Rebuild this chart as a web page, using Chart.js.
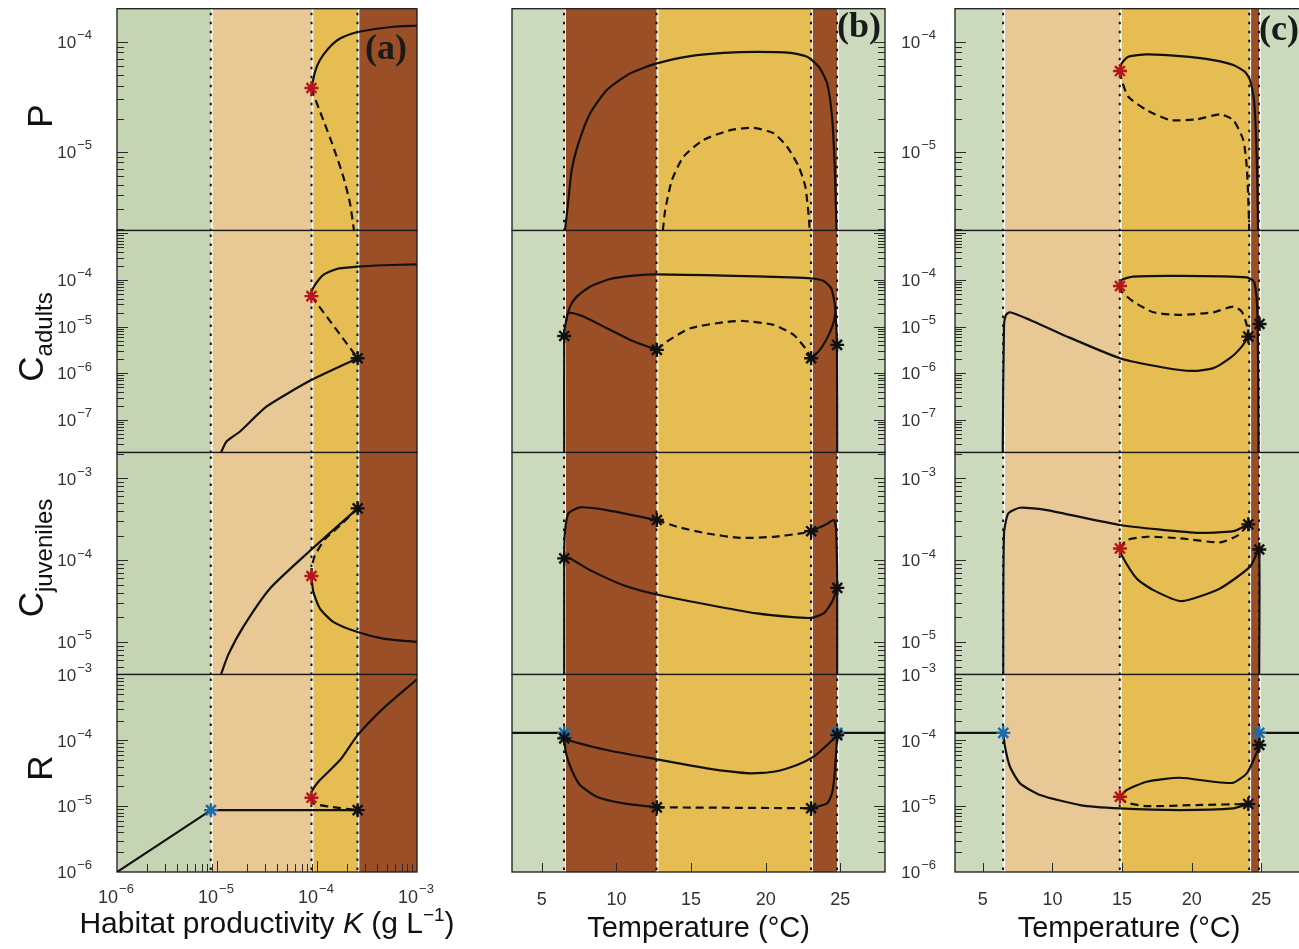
<!DOCTYPE html>
<html lang="en">
<head>
<meta charset="utf-8">
<title>Bifurcation diagrams</title>
<script src="https://cdn.jsdelivr.net/npm/chart.js@4.4.1/dist/chart.umd.min.js"></script>
<style>
  html, body { margin:0; padding:0; background:#fff; width:1299px; height:949px; overflow:hidden; }
  #figure { position:relative; width:1299px; height:949px; overflow:hidden; }
  #figure canvas { position:absolute; }
</style>
</head>
<body>
<div id="figure"></div>
<script>
// ---------- axis ranges and tick labels ----------
const kRange = [1e-6, 1e-3];
const kTicks = [1e-6, 1e-5, 1e-4, 1e-3];
const kTickLabels = ['10^-6', '10^-5', '10^-4', '10^-3'];
const tRange = [3, 28];
const tTicks = [5, 10, 15, 20, 25];
const tTickLabels = ['5', '10', '15', '20', '25'];

const pRange = [1.92e-6, 2.0e-4];
const pTicks = [1e-5, 1e-4];
const pTickLabels = ['10^-5', '10^-4'];
const caRange = [2.0e-8, 1.15e-3];
const caTicks = [1e-7, 1e-6, 1e-5, 1e-4];
const caTickLabels = ['10^-7', '10^-6', '10^-5', '10^-4'];
const cjRange = [4.0e-6, 2.07e-3];
const cjTicks = [1e-5, 1e-4, 1e-3];
const cjTickLabels = ['10^-5', '10^-4', '10^-3'];
const rRange = [1e-6, 1e-3];
const rTicks = [1e-6, 1e-5, 1e-4, 1e-3];
const rTickLabels = ['10^-6', '10^-5', '10^-4', '10^-3'];

// ---------- regime boundaries along each x axis ----------
const zonesA = [1e-6, 8.7e-6, 8.85e-5, 2.55e-4, 1e-3];
const zoneKindsA = ['green', 'tan', 'gold', 'rust'];
const zonesB = [3, 6.5, 12.7, 23.05, 24.8, 28];
const zoneKindsB = ['green', 'rust', 'gold', 'rust', 'green'];
const zonesC = [3, 6.47, 14.85, 24.15, 24.85, 28];
const zoneKindsC = ['green', 'tan', 'gold', 'rust', 'green'];

// ---------- (a) habitat productivity K ----------
const aP_stable = [[8.8e-5,3.8e-5],[9.55e-5,5.33e-5],[1.07e-4,6.82e-5],[1.3e-4,8.71e-5],[1.7e-4,1.07e-4],[2.5e-4,1.22e-4],[3.66e-4,1.3e-4],[5.79e-4,1.37e-4],[1e-3,1.4e-4]];
const aP_unstable = [[8.8e-5,3.8e-5],[9.0e-5,3.51e-5],[1.156e-4,1.94e-5],[1.455e-4,1.11e-5],[1.832e-4,5.93e-6],[2.138e-4,3.4e-6],[2.344e-4,1.92e-6]];
const aP_red = [[8.8e-5,3.8e-5]];

const aCa_stable = [[8.8e-5,4.5e-5],[8.85e-5,5.62e-5],[9.55e-5,7.82e-5],[1.156e-4,1.28e-4],[1.574e-4,1.72e-4],[2.55e-4,1.93e-4],[4.6e-4,2.07e-4],[1e-3,2.17e-4]];
const aCa_unstable = [[8.8e-5,4.5e-5],[2.55e-4,2.1e-6]];
const aCa_lower = [[1.096e-5,2.0e-8],[1.25e-5,3.47e-8],[1.7e-5,5.65e-8],[3.14e-5,1.94e-7],[8.85e-5,7.23e-7],[2.55e-4,2.1e-6]];
const aCa_red = [[8.8e-5,4.5e-5]];
const aCa_black = [[2.55e-4,2.1e-6]];

const aCj_rising = [[1.096e-5,4.0e-6],[1.297e-5,7.0e-6],[1.83e-5,1.53e-5],[3.39e-5,4.51e-5],[8.85e-5,1.36e-4],[2.55e-4,4.3e-4]];
const aCj_unstable = [[8.8e-5,6.4e-5],[8.9e-5,8.5e-5],[9.55e-5,1.15e-4],[1.2e-4,1.8e-4],[1.7e-4,2.65e-4],[2.55e-4,4.3e-4]];
const aCj_falling = [[8.8e-5,6.4e-5],[8.85e-5,5.97e-5],[9.19e-5,4.09e-5],[1.07e-4,2.56e-5],[1.455e-4,1.76e-5],[2.5e-4,1.33e-5],[4.6e-4,1.1e-5],[1e-3,1.0e-5]];
const aCj_red = [[8.8e-5,6.4e-5]];
const aCj_black = [[2.55e-4,4.3e-4]];

const aR_rising = [[1e-6,1e-6],[8.7e-6,8.7e-6]];
const aR_flat = [[8.7e-6,8.7e-6],[2.55e-4,8.7e-6]];
const aR_stable = [[8.8e-5,1.34e-5],[8.85e-5,1.66e-5],[1.07e-4,2.49e-5],[1.7e-4,5.02e-5],[2.55e-4,1.2e-4],[4.6e-4,3.06e-4],[1e-3,8.45e-4]];
const aR_unstable = [[8.8e-5,1.34e-5],[9.2e-5,1.1e-5],[1.35e-4,9.8e-6],[2.55e-4,8.7e-6]];
const aR_red = [[8.8e-5,1.34e-5]];
const aR_blue = [[8.7e-6,8.7e-6]];
const aR_black = [[2.55e-4,8.7e-6]];

// ---------- (b) temperature ----------
const bP_stable = [[6.55,1.92e-6],[6.78,3.63e-6],[7.0,6.82e-6],[7.45,1.19e-5],[8.23,2.23e-5],[9.36,3.64e-5],[10.92,5.16e-5],[12.71,6.37e-5],[14.95,7.41e-5],[17.18,7.94e-5],[19.42,8.11e-5],[21.66,7.94e-5],[22.78,7.31e-5],[23.56,5.93e-5],[24.12,4.19e-5],[24.45,2.08e-5],[24.63,7.31e-6],[24.75,1.92e-6]];
const bP_unstable = [[13.11,1.92e-6],[13.27,2.95e-6],[13.72,5.53e-6],[14.5,9.02e-6],[15.84,1.28e-5],[17.63,1.57e-5],[19.2,1.65e-5],[20.54,1.47e-5],[21.44,1.11e-5],[22.22,7.31e-6],[22.66,4.81e-6],[22.89,2.57e-6],[22.95,1.92e-6]];

const bCa_outer = [[6.5,2.0e-8],[6.5,6.3e-6],[6.62,1.28e-5],[6.89,2.69e-5],[7.34,4.4e-5],[8.23,7.19e-5],[9.58,1.05e-4],[11.14,1.24e-4],[12.71,1.32e-4],[17.18,1.24e-4],[21.66,1.14e-4],[23.0,1.09e-4],[23.89,9.55e-5],[24.39,6.64e-5],[24.61,3.44e-5],[24.68,2.1e-5],[24.78,4.06e-6],[24.8,2.0e-8]];
const bCa_right = [[24.68,2.1e-5],[24.57,1.28e-5],[24.23,6.64e-6],[23.79,3.73e-6],[23.34,2.48e-6],[23.05,2.1e-6]];
const bCa_left = [[6.62,1.28e-5],[6.75,1.95e-5],[7.12,1.93e-5],[7.79,1.64e-5],[9.36,9.23e-6],[10.92,5.19e-6],[12.71,3.17e-6]];
const bCa_unstable = [[12.71,3.17e-6],[13.38,4.79e-6],[14.95,9.23e-6],[17.18,1.24e-5],[18.52,1.32e-5],[20.54,1.09e-5],[21.88,6.64e-6],[22.66,3.44e-6],[23.05,2.1e-6]];
const bCa_black = [[6.5,6.3e-6],[12.71,3.17e-6],[23.05,2.1e-6],[24.79,4.06e-6]];

const bCj_upper = [[6.5,4.0e-6],[6.5,1.05e-4],[6.55,2.22e-4],[6.78,3.73e-4],[7.56,4.42e-4],[9.36,4.09e-4],[12.71,3.09e-4]];
const bCj_unstable = [[12.71,3.09e-4],[14.05,2.56e-4],[16.06,2.12e-4],[18.3,1.87e-4],[20.54,1.93e-4],[22.33,2.12e-4],[23.05,2.26e-4]];
const bCj_right = [[23.05,2.26e-4],[24.0,2.7e-4],[24.57,3.09e-4],[24.72,2.4e-4],[24.78,1.0e-4],[24.8,4.58e-5],[24.8,4.0e-6]];
const bCj_lower = [[6.5,1.05e-4],[6.89,1.05e-4],[8.23,7.55e-5],[10.47,4.94e-5],[12.71,3.8e-5],[16.06,2.87e-5],[19.42,2.23e-5],[21.66,2.02e-5],[23.05,1.97e-5],[23.89,2.23e-5],[24.45,3.09e-5],[24.8,4.58e-5]];
const bCj_black = [[6.5,1.05e-4],[12.71,3.09e-4],[23.05,2.26e-4],[24.8,4.58e-5]];

const bR_edgeLeft = [[3,1.3e-4],[6.5,1.3e-4]];
const bR_edgeRight = [[24.8,1.3e-4],[28,1.3e-4]];
const bR_upper = [[6.5,1.3e-4],[6.5,1.07e-4],[9.36,7.13e-5],[12.71,5.14e-5],[16.06,3.75e-5],[18.97,3.15e-5],[20.54,3.33e-5],[22.1,4.22e-5],[23.22,5.64e-5],[24.12,8.49e-5],[24.8,1.2e-4],[24.8,1.3e-4]];
const bR_lower = [[6.5,1.07e-4],[6.62,6.34e-5],[7.0,3.54e-5],[7.56,2.09e-5],[8.68,1.39e-5],[10.47,1.1e-5],[12.71,9.6e-6]];
const bR_unstable = [[12.71,9.6e-6],[23.05,9.3e-6]];
const bR_right = [[23.05,9.3e-6],[24.12,1.1e-5],[24.45,1.57e-5],[24.61,2.8e-5],[24.75,8.0e-5],[24.8,1.2e-4]];
const bR_blue = [[6.5,1.3e-4],[24.8,1.3e-4]];
const bR_black = [[6.5,1.07e-4],[12.71,9.6e-6],[23.05,9.3e-6],[24.8,1.2e-4]];

// ---------- (c) temperature ----------
const cP_stable = [[14.85,5.42e-5],[14.97,6.37e-5],[15.45,7.31e-5],[16.77,7.67e-5],[19.16,7.41e-5],[21.56,6.82e-5],[22.99,6.14e-5],[23.83,5.33e-5],[24.19,4.49e-5],[24.48,2.95e-5],[24.62,1.47e-5],[24.72,5.16e-6],[24.77,1.92e-6]];
const cP_unstable = [[14.85,5.42e-5],[14.97,4.49e-5],[15.45,3.16e-5],[16.77,2.39e-5],[18.45,1.94e-5],[20.36,1.97e-5],[22.04,2.19e-5],[22.99,1.94e-5],[23.71,1.28e-5],[23.96,7.31e-6],[24.07,3.64e-6],[24.14,1.92e-6]];
const cP_red = [[14.85,5.42e-5]];

const cCa_stable = [[14.85,7.4e-5],[14.97,1.0e-4],[15.81,1.18e-4],[19.16,1.22e-4],[23.96,1.14e-4],[24.48,9.2e-5],[24.67,4.06e-5],[24.74,1.09e-5],[24.79,4.06e-7],[24.81,2.0e-8]];
const cCa_unstable = [[14.85,7.4e-5],[14.97,5.62e-5],[15.81,3.44e-5],[17.25,2.03e-5],[19.16,1.78e-5],[21.56,2.03e-5],[22.99,2.69e-5],[23.6,2.1e-5],[23.96,1.09e-5],[24.07,6.11e-6]];
const cCa_lower = [[6.43,2.0e-8],[6.52,1.09e-5],[6.66,1.78e-5],[6.95,2.03e-5],[8.39,1.39e-5],[10.78,6.64e-6],[14.85,2.1e-6],[17.96,1.33e-6],[20.0,1.12e-6],[21.56,1.29e-6],[22.75,2.1e-6],[23.6,3.73e-6],[24.07,6.11e-6]];
const cCa_red = [[14.85,7.4e-5]];
const cCa_black = [[24.07,6.11e-6],[24.88,1.14e-5]];

const cCj_upper = [[6.47,4.0e-6],[6.52,2.12e-4],[6.83,3.73e-4],[7.67,4.37e-4],[9.59,4.09e-4],[14.85,2.69e-4],[20.36,2.16e-4],[22.99,2.26e-4],[24.07,2.74e-4]];
const cCj_unstable = [[14.85,1.39e-4],[15.33,1.76e-4],[16.77,1.93e-4],[19.16,1.85e-4],[22.04,1.65e-4],[23.35,2.02e-4],[24.07,2.74e-4]];
const cCj_lower = [[14.85,1.39e-4],[14.97,1.15e-4],[16.05,5.97e-5],[17.25,4.3e-5],[19.28,3.15e-5],[22.04,4.51e-5],[24.19,8.28e-5],[24.62,1.15e-4],[24.86,1.35e-4],[24.86,4.0e-6]];
const cCj_red = [[14.85,1.39e-4]];
const cCj_black = [[24.07,2.74e-4],[24.86,1.35e-4]];

const cR_edgeLeft = [[3,1.3e-4],[6.47,1.3e-4]];
const cR_edgeRight = [[24.86,1.3e-4],[28,1.3e-4]];
const cR_lower = [[6.47,1.3e-4],[6.59,8.0e-5],[6.95,3.97e-5],[7.67,2.22e-5],[9.11,1.48e-5],[11.98,1.04e-5],[14.85,9.27e-6],[19.16,8.73e-6],[22.99,9.27e-6],[24.07,1.08e-5]];
const cR_unstable = [[14.85,1.39e-5],[15.33,1.13e-5],[16.77,1.0e-5],[20.36,1.04e-5],[24.07,1.08e-5]];
const cR_stable = [[14.85,1.39e-5],[15.33,1.76e-5],[16.77,2.35e-5],[19.16,2.7e-5],[21.56,2.35e-5],[22.99,2.27e-5],[23.96,3.15e-5],[24.55,5.64e-5],[24.86,8.49e-5],[24.86,1.3e-4]];
const cR_red = [[14.85,1.39e-5]];
const cR_blue = [[6.47,1.3e-4],[24.86,1.3e-4]];
const cR_black = [[24.07,1.08e-5],[24.86,8.49e-5]];

// ---------- which curves go in which panel (rows: P, C adults, C juveniles, R) ----------
const panelsA = [
  { solid:[aP_stable], dashed:[aP_unstable], red:aP_red, blue:[], black:[] },
  { solid:[aCa_stable, aCa_lower], dashed:[aCa_unstable], red:aCa_red, blue:[], black:aCa_black },
  { solid:[aCj_rising, aCj_falling], dashed:[aCj_unstable], red:aCj_red, blue:[], black:aCj_black },
  { solid:[aR_rising, aR_flat, aR_stable], dashed:[aR_unstable], red:aR_red, blue:aR_blue, black:aR_black }
];
const panelsB = [
  { solid:[bP_stable], dashed:[bP_unstable], red:[], blue:[], black:[] },
  { solid:[bCa_outer, bCa_right, bCa_left], dashed:[bCa_unstable], red:[], blue:[], black:bCa_black },
  { solid:[bCj_upper, bCj_right, bCj_lower], dashed:[bCj_unstable], red:[], blue:[], black:bCj_black },
  { solid:[bR_edgeLeft, bR_edgeRight, bR_upper, bR_lower, bR_right], dashed:[bR_unstable], red:[], blue:bR_blue, black:bR_black }
];
const panelsC = [
  { solid:[cP_stable], dashed:[cP_unstable], red:cP_red, blue:[], black:[] },
  { solid:[cCa_stable, cCa_lower], dashed:[cCa_unstable], red:cCa_red, blue:[], black:cCa_black },
  { solid:[cCj_upper, cCj_lower], dashed:[cCj_unstable], red:cCj_red, blue:[], black:cCj_black },
  { solid:[cR_edgeLeft, cR_edgeRight, cR_lower, cR_stable], dashed:[cR_unstable], red:cR_red, blue:cR_blue, black:cR_black }
];

// ---------- styling ----------
const SANS = "'Liberation Sans', Arial, Helvetica, sans-serif";
const SERIF = "'Liberation Serif', 'Times New Roman', serif";
const INK = '#111111';
const TICK_TEXT = '#333333';
const STAR_COLORS = { red:'#b3161c', blue:'#1f6aa6', black:'#111111' };
const ZONE_COLORS_A = { green:'#c5d4b2', tan:'#e8c996', gold:'#e6bd52', rust:'#9b4f26' };
const ZONE_COLORS_BC = { green:'#cbd9bc', tan:'#e8c996', gold:'#e6bd52', rust:'#9b4f26' };

const columns = [
  { data:panelsA, canvasLeft:0, canvasWidth:475, plotLeft:117, plotRight:417, yLabelRight:92,
    tickSide:'left', xType:'logarithmic', xRange:kRange, xTicks:kTicks, xTickLabels:kTickLabels, xMinorLog:true,
    zones:zonesA, zoneKinds:zoneKindsA, zoneColors:ZONE_COLORS_A, tag:'(a)', tagDx:-52, tagDy:41,
    yTitles:true, habitatTitle:true },
  { data:panelsB, canvasLeft:490, canvasWidth:420, plotLeft:512, plotRight:885, yLabelRight:null,
    tickSide:'right', xType:'linear', xRange:tRange, xTicks:tTicks, xTickLabels:tTickLabels, xMinorLog:false,
    zones:zonesB, zoneKinds:zoneKindsB, zoneColors:ZONE_COLORS_BC, tag:'(b)', tagDx:-48, tagDy:19,
    yTitles:false, habitatTitle:false },
  { data:panelsC, canvasLeft:875, canvasWidth:460, plotLeft:955, plotRight:1303, yLabelRight:936,
    tickSide:'left', xType:'linear', xRange:tRange, xTicks:tTicks, xTickLabels:tTickLabels, xMinorLog:false,
    zones:zonesC, zoneKinds:zoneKindsC, zoneColors:ZONE_COLORS_BC, tag:'(c)', tagDx:-44, tagDy:22,
    yTitles:false, habitatTitle:false }
];

const rows = [
  { top:8.7,   bottom:230.5, range:pRange,  ticks:pTicks,  labels:pTickLabels,  title:{ main:'P', sub:'', cx:52, cy:116 } },
  { top:230.5, bottom:452.5, range:caRange, ticks:caTicks, labels:caTickLabels, title:{ main:'C', sub:'adults', cx:43, cy:337 } },
  { top:452.5, bottom:674.5, range:cjRange, ticks:cjTicks, labels:cjTickLabels, title:{ main:'C', sub:'juveniles', cx:43, cy:558 } },
  { top:674.5, bottom:872,   range:rRange,  ticks:rTicks,  labels:rTickLabels,  title:{ main:'R', sub:'', cx:52, cy:768 } }
];

const FIG_H = 949;
const EDGE = 14;

// minor/major positions of a log axis (1..9 x 10^n inside the range)
function logTickValues(min, max) {
  const out = [];
  for (let e = Math.floor(Math.log10(min)); e <= Math.ceil(Math.log10(max)); e++) {
    for (let k = 1; k < 10; k++) {
      const v = k * Math.pow(10, e);
      if (v > min * 1.0001 && v < max * 0.9999) out.push({ v, major: k === 1 });
    }
  }
  return out;
}

// "10^-4" drawn as a base with a raised exponent
function drawPower(ctx, label, x, y, align, size) {
  const parts = label.split('^');
  const base = parts[0];
  const exp = (parts[1] || '').replace('-', '\u2212');
  const baseFont = size + 'px ' + SANS;
  const expFont = Math.round(size * 0.74) + 'px ' + SANS;
  ctx.font = baseFont;
  const wb = ctx.measureText(base).width;
  ctx.font = expFont;
  const we = ctx.measureText(exp).width;
  const total = wb + 1 + we;
  const x0 = align === 'right' ? x - total : x - total / 2;
  ctx.textAlign = 'left';
  ctx.textBaseline = 'middle';
  ctx.fillStyle = TICK_TEXT;
  ctx.font = baseFont;
  ctx.fillText(base, x0, y);
  ctx.font = expFont;
  ctx.fillText(exp, x0 + wb + 1, y - size * 0.45);
}

function drawAxisTitle(ctx, t, ox, oy) {
  ctx.save();
  ctx.translate(t.cx - ox, t.cy - oy);
  ctx.rotate(-Math.PI / 2);
  ctx.fillStyle = INK;
  ctx.textBaseline = 'alphabetic';
  ctx.textAlign = 'left';
  const mainFont = '35px ' + SANS, subFont = '24px ' + SANS;
  ctx.font = mainFont;
  const w1 = ctx.measureText(t.main).width;
  ctx.font = subFont;
  const w2 = t.sub ? ctx.measureText(t.sub).width : 0;
  const x0 = -(w1 + w2) / 2;
  ctx.font = mainFont;
  ctx.fillText(t.main, x0, 0);
  if (t.sub) { ctx.font = subFont; ctx.fillText(t.sub, x0 + w1, 9); }
  ctx.restore();
}

function drawHabitatTitle(ctx, cx, baseY) {
  const size = 30;
  const parts = [
    { t:'Habitat productivity ', f:size + 'px ' + SANS, dy:0 },
    { t:'K', f:'italic ' + size + 'px ' + SANS, dy:0 },
    { t:' (g L', f:size + 'px ' + SANS, dy:0 },
    { t:'\u22121', f:'19px ' + SANS, dy:-12 },
    { t:')', f:size + 'px ' + SANS, dy:0 }
  ];
  ctx.save();
  ctx.fillStyle = INK;
  ctx.textBaseline = 'alphabetic';
  ctx.textAlign = 'left';
  let total = 0;
  parts.forEach(p => { ctx.font = p.f; p.w = ctx.measureText(p.t).width; total += p.w; });
  let x = cx - total / 2;
  parts.forEach(p => { ctx.font = p.f; ctx.fillText(p.t, x, baseY + p.dy); x += p.w; });
  ctx.restore();
}

function decoPlugin(col, row, ri, last, canvasTop) {
  return {
    id: 'panelDeco',
    beforeDatasetsDraw(chart) {
      const { ctx, chartArea: a } = chart;
      const xs = chart.scales.x;
      ctx.save();
      for (let i = 0; i < col.zoneKinds.length; i++) {
        const x0 = xs.getPixelForValue(col.zones[i]);
        const x1 = xs.getPixelForValue(col.zones[i + 1]);
        ctx.fillStyle = col.zoneColors[col.zoneKinds[i]];
        ctx.fillRect(x0, a.top, x1 - x0, a.bottom - a.top);
      }
      for (let i = 1; i < col.zones.length - 1; i++) {
        const px = xs.getPixelForValue(col.zones[i]);
        ctx.setLineDash([]);
        ctx.strokeStyle = '#ffffff';
        ctx.lineWidth = 1.6;
        ctx.beginPath(); ctx.moveTo(px + 0.9, a.top); ctx.lineTo(px + 0.9, a.bottom); ctx.stroke();
        ctx.setLineDash([2.5, 6.5]);
        ctx.strokeStyle = '#111111';
        ctx.lineWidth = 2;
        ctx.beginPath(); ctx.moveTo(px - 0.2, a.top + 4); ctx.lineTo(px - 0.2, a.bottom); ctx.stroke();
      }
      ctx.restore();
    },
    afterDraw(chart) {
      const { ctx, chartArea: a } = chart;
      const xs = chart.scales.x, ys = chart.scales.y;
      ctx.save();
      ctx.setLineDash([]);
      ctx.strokeStyle = '#1a1a1a';
      ctx.lineWidth = 1.3;
      ctx.strokeRect(a.left, a.top, a.right - a.left, a.bottom - a.top);

      // inner tick marks on the value axis
      ctx.strokeStyle = '#2a2a2a';
      ctx.lineWidth = 1;
      logTickValues(row.range[0], row.range[1]).forEach(t => {
        const py = Math.round(ys.getPixelForValue(t.v)) + 0.5;
        const len = t.major ? 11 : 7;
        ctx.beginPath();
        if (col.tickSide === 'left') { ctx.moveTo(a.left, py); ctx.lineTo(a.left + len, py); }
        else { ctx.moveTo(a.right, py); ctx.lineTo(a.right - len, py); }
        ctx.stroke();
      });

      // decade labels on the value axis
      if (col.yLabelRight !== null) {
        const rx = col.yLabelRight - col.canvasLeft;
        row.ticks.forEach((v, i) => drawPower(ctx, row.labels[i], rx, ys.getPixelForValue(v) + 1.5, 'right', 17));
      }

      if (last) {
        const xt = col.xMinorLog ? logTickValues(col.xRange[0], col.xRange[1])
                                 : col.xTicks.map(v => ({ v, major: true }));
        xt.forEach(t => {
          const px = Math.round(xs.getPixelForValue(t.v)) + 0.5;
          const len = col.xMinorLog ? (t.major ? 11 : 8) : 9;
          ctx.beginPath(); ctx.moveTo(px, a.bottom); ctx.lineTo(px, a.bottom - len); ctx.stroke();
        });
        if (col.xMinorLog) {
          col.xTicks.forEach((v, i) => drawPower(ctx, col.xTickLabels[i], xs.getPixelForValue(v) - 1, a.bottom + 26, 'center', 18));
        }
        if (col.habitatTitle) drawHabitatTitle(ctx, (a.left + a.right) / 2, 933 - canvasTop);
      }

      if (ri === 0) {
        ctx.fillStyle = '#1a1a1a';
        ctx.font = 'bold 36px ' + SERIF;
        ctx.textAlign = 'left';
        ctx.textBaseline = 'middle';
        ctx.fillText(col.tag, a.right + col.tagDx, a.top + col.tagDy);
      }
      if (col.yTitles) drawAxisTitle(ctx, row.title, col.canvasLeft, canvasTop);
      ctx.restore();
    }
  };
}

const toXY = pts => pts.map(([x, y]) => ({ x, y }));

function lineDataset(pts, dashed) {
  return {
    type: 'line',
    data: toXY(pts),
    borderColor: INK,
    borderWidth: 2.2,
    borderDash: dashed ? [8, 5] : [],
    borderJoinStyle: 'round',
    pointRadius: 0,
    tension: 0.2,
    fill: false,
    order: 2
  };
}

function starDataset(pts, color) {
  return {
    type: 'scatter',
    data: toXY(pts),
    showLine: false,
    pointStyle: 'star',
    pointRadius: 7,
    pointBorderWidth: 2.4,
    borderColor: color,
    backgroundColor: color,
    order: 0
  };
}

const fig = document.getElementById('figure');

columns.forEach(col => {
  rows.forEach((row, ri) => {
    const last = ri === rows.length - 1;
    const canvasTop = Math.floor(row.top) - EDGE;
    const canvasHeight = last ? FIG_H - canvasTop : Math.ceil(row.bottom) + EDGE - canvasTop;
    const padTop = row.top - canvasTop;
    const padBottom = last ? 0 : canvasHeight - (row.bottom - canvasTop);
    const xAxisHeight = FIG_H - row.bottom;
    const padLeft = col.plotLeft - col.canvasLeft;
    const padRight = col.canvasLeft + col.canvasWidth - col.plotRight;

    const cv = document.createElement('canvas');
    cv.width = col.canvasWidth;
    cv.height = canvasHeight;
    cv.style.left = col.canvasLeft + 'px';
    cv.style.top = canvasTop + 'px';
    cv.style.width = col.canvasWidth + 'px';
    cv.style.height = canvasHeight + 'px';
    fig.appendChild(cv);

    const pd = col.data[ri];
    const datasets = [];
    pd.solid.forEach(p => datasets.push(lineDataset(p, false)));
    pd.dashed.forEach(p => datasets.push(lineDataset(p, true)));
    ['black', 'red', 'blue'].forEach(c => { if (pd[c].length) datasets.push(starDataset(pd[c], STAR_COLORS[c])); });

    new Chart(cv, {
      type: 'line',
      data: { datasets },
      options: {
        responsive: false,
        animation: false,
        devicePixelRatio: 1,
        events: [],
        layout: { autoPadding: false, padding: { left: padLeft, right: padRight, top: padTop, bottom: padBottom } },
        plugins: { legend: { display: false }, tooltip: { enabled: false } },
        scales: {
          x: {
            type: col.xType,
            min: col.xRange[0],
            max: col.xRange[1],
            position: 'bottom',
            display: last,
            grid: { display: false, drawTicks: false },
            border: { display: false },
            afterBuildTicks: s => { s.ticks = col.xTicks.map(v => ({ value: v })); },
            afterFit: s => { if (last) s.height = xAxisHeight; s.paddingLeft = 0; s.paddingRight = 0; },
            ticks: {
              display: !col.xMinorLog,
              autoSkip: false, maxRotation: 0, minRotation: 0, padding: 17,
              color: TICK_TEXT, font: { family: SANS, size: 18 },
              callback: (v, i) => col.xTickLabels[i]
            },
            title: {
              display: last && !col.habitatTitle,
              text: 'Temperature (°C)',
              color: INK,
              font: { family: SANS, size: 29 },
              padding: { top: 0, bottom: 3 }
            }
          },
          y: {
            type: 'logarithmic',
            min: row.range[0],
            max: row.range[1],
            position: 'left',
            display: false
          }
        }
      },
      plugins: [decoPlugin(col, row, ri, last, canvasTop)]
    });
  });
});
</script>
</body>
</html>
